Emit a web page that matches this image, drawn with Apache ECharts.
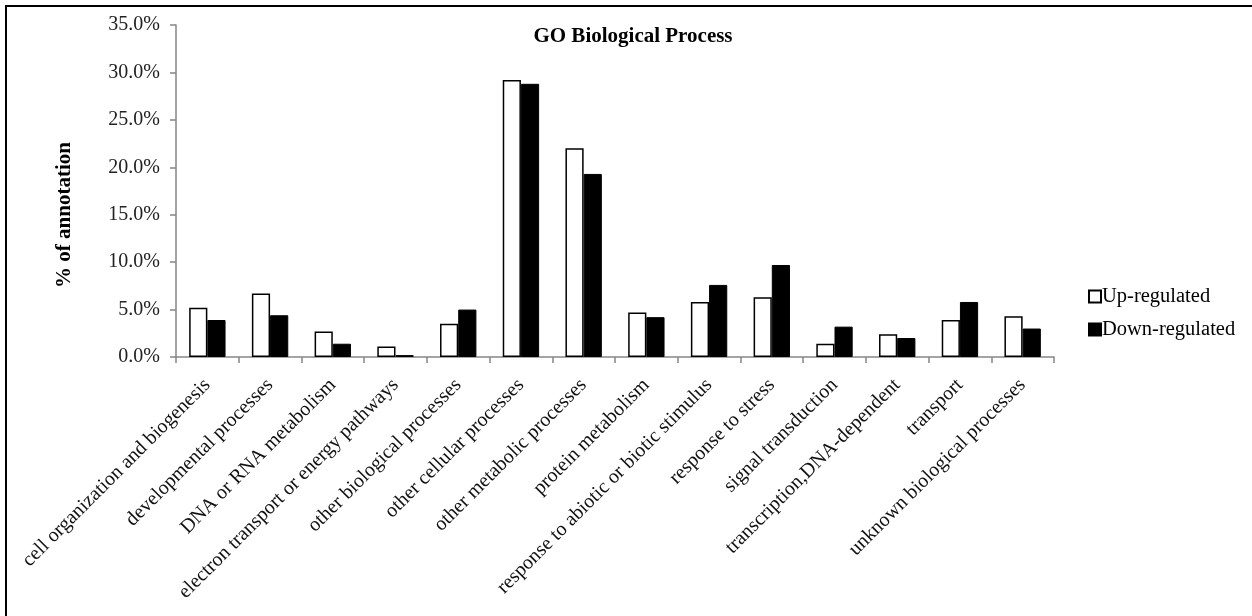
<!DOCTYPE html>
<html>
<head>
<meta charset="utf-8">
<script src="https://cdn.jsdelivr.net/npm/echarts@6/dist/echarts.min.js"></script>
<style>
  html, body { margin: 0; padding: 0; background: #fff; }
  #chart { width: 1252px; height: 616px; }
</style>
</head>
<body>
<div id="chart"></div>
<script>
// GO biological process categories
const categories = [
  'cell organization and biogenesis',
  'developmental processes',
  'DNA or RNA metabolism',
  'electron transport or energy pathways',
  'other biological processes',
  'other cellular processes',
  'other metabolic processes',
  'protein metabolism',
  'response to abiotic or biotic stimulus',
  'response to stress',
  'signal transduction',
  'transcription,DNA-dependent',
  'transport',
  'unknown biological processes'
];

// Share of annotated genes (%)
const upRegulated   = [5.2, 6.7, 2.7, 1.1, 3.5, 29.2, 22.0, 4.7, 5.8, 6.3, 1.4, 2.4, 3.9, 4.3];
const downRegulated = [3.9, 4.4, 1.4, 0.2, 5.0, 28.8, 19.3, 4.2, 7.6, 9.7, 3.2, 2.0, 5.8, 3.0];

const yTicks = { min: 0, max: 35, interval: 5 };
const yTitle = '% of annotation';

const serif = '"Liberation Serif", "Times New Roman", serif';
const axisGrey = '#868686';

const chart = echarts.init(document.getElementById('chart'), null, { renderer: 'canvas' });

chart.setOption({
  backgroundColor: '#fff',
  animation: false,
  title: {
    text: 'GO Biological Process',
    left: 628,
    textAlign: 'center',
    top: 21,
    textStyle: { fontFamily: serif, fontWeight: 'bold', fontSize: 21, color: '#000' }
  },
  legend: {
    orient: 'vertical',
    left: 1083,
    top: 281,
    itemWidth: 12,
    itemHeight: 12,
    itemGap: 12,
    icon: 'rect',
    textStyle: { fontFamily: serif, fontSize: 20.5, color: '#000', padding: [0, 0, 0, -4] },
    data: ['Up-regulated', 'Down-regulated']
  },
  grid: { left: 176, right: 198, top: 25, bottom: 259, containLabel: false },
  xAxis: {
    type: 'category',
    data: categories,
    boundaryGap: true,
    axisLine: { lineStyle: { color: axisGrey, width: 1.5 } },
    axisTick: { show: true, length: 6, alignWithLabel: false, lineStyle: { color: axisGrey, width: 1.5 } },
    axisLabel: {
      interval: 0,
      rotate: 45,
      margin: 25,
      fontFamily: serif,
      fontSize: 20,
      color: '#111'
    }
  },
  yAxis: {
    type: 'value',
    min: yTicks.min,
    max: yTicks.max,
    interval: yTicks.interval,
    splitLine: { show: false },
    axisLine: { show: true, lineStyle: { color: axisGrey, width: 1.5 } },
    axisTick: { show: true, length: 6, lineStyle: { color: axisGrey, width: 1.5 } },
    axisLabel: {
      margin: 16,
      fontFamily: serif,
      fontSize: 20,
      color: '#222',
      formatter: v => v.toFixed(1) + '%'
    }
  },
  series: [
    {
      name: 'Up-regulated',
      type: 'bar',
      data: upRegulated,
      barGap: '0%',
      barCategoryGap: '42%',
      itemStyle: { color: '#fff', borderColor: '#000', borderWidth: 1.5 }
    },
    {
      name: 'Down-regulated',
      type: 'bar',
      data: downRegulated,
      barGap: '0%',
      barCategoryGap: '42%',
      itemStyle: { color: '#000', borderColor: '#000', borderWidth: 1 }
    }
  ],
  graphic: [
    // y-axis title, rotated
    {
      type: 'text',
      x: 65,
      y: 215,
      rotation: Math.PI / 2,
      style: {
        text: yTitle,
        font: 'bold 21px ' + serif,
        fill: '#000',
        align: 'center',
        verticalAlign: 'middle'
      }
    },
    // frame edges
    { type: 'line', shape: { x1: 5, y1: 6, x2: 1252, y2: 6 }, style: { stroke: '#000', lineWidth: 2 } },
    { type: 'line', shape: { x1: 6, y1: 5, x2: 6, y2: 616 }, style: { stroke: '#000', lineWidth: 2 } }
  ]
});
</script>
</body>
</html>
